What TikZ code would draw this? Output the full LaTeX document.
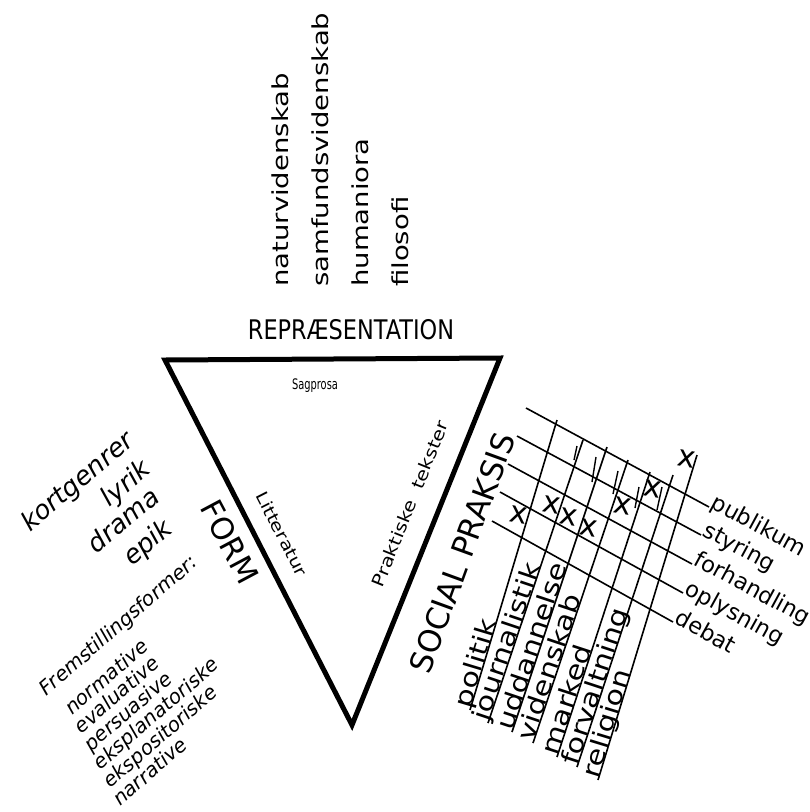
\documentclass[tikz,border=0pt]{standalone}
\usepackage{fontspec}
\setmainfont{DejaVu Sans}
\newfontfamily\tallfont[FakeStretch=1.25]{DejaVu Sans}
\newfontfamily\slimfont[FakeStretch=0.83]{DejaVu Sans}
\newfontfamily\thinfont[FakeStretch=0.68]{DejaVu Sans}
\newfontfamily\wideflat[FakeStretch=1.2]{DejaVu Sans}
\def\tsize#1{\fontsize{#1}{#1}\selectfont}

\begin{document}
\begin{tikzpicture}[x=1pt, y=-1pt,
    every node/.style={inner sep=0pt},
    field/.style={font=\tallfont\tsize{22}, rotate=90, anchor=base west},
    genre/.style={font=\itshape\tsize{26}, rotate=40, anchor=base},
    frem/.style={font=\itshape\tsize{20}, rotate=41, anchor=base west},
    grid/.style={line width=1.6pt},
    tick/.style={line width=1.4pt},
    rowlab/.style={pos=1, sloped, anchor=base west, font=\tsize{22.5}},
    collab/.style={pos=0, sloped, anchor=base west, font=\wideflat\tsize{25}},
    xmark/.style={font=\tsize{30}, rotate=-10}]
  \useasboundingbox (0,0) rectangle (810,812);

  % fagomraader
  \node[field] (natur) at (288,287) {naturvidenskab};
  \node[field] (samfund) at (328,287) {samfundsvidenskab};
  \node[field] (human) at (368,287) {humaniora};
  \node[field] (filo) at (408,287) {filosofi};
  \node[font=\slimfont\tsize{27}, anchor=base] (repr) at (351,339) {REPRÆSENTATION};

  % trekanten
  \coordinate (tl) at (165,360);
  \coordinate (tr) at (500,358);
  \coordinate (bt) at (352,725);
  \draw[line width=5pt, line join=miter] (tl) -- (tr) -- (bt) -- cycle;
  \node[font=\thinfont\tsize{14.5}, anchor=base] (sag) at (315,389) {Sagprosa};
  \node[font=\wideflat\tsize{16.5}, rotate=-63] (litt) at (282,534) {Litteratur};
  \node[font=\wideflat\tsize{17}, rotate=68] (prak) at (410,504) {Praktiske\ \ tekster};
  \node[font=\tsize{30.5}, rotate=-62] (form) at (230,542) {FORM};
  \node[font=\tsize{31}, rotate=70] (social) at (462,553) {SOCIAL PRAKSIS};

  % genrer
  \node[genre] (kort) at (83,488) {kortgenrer};
  \node[genre] (lyrik) at (131,490) {lyrik};
  \node[genre] (drama) at (129,527) {drama};
  \node[genre] (epik) at (153,549) {epik};

  % fremstillingsformer
  \node[frem] (fremst) at (46,697) {Fremstillingsformer:};
  \foreach \w [count=\i from 0] in {normative,evaluative,persuasive,eksplanatoriske,ekspositoriske,narrative}
    \node[frem] (frem\i) at ({72+9.6*\i},{716+18.2*\i}) {\w};

  % skema, social praksis
  \coordinate (h1a) at (526,408); \coordinate (h1b) at (709,507);
  \coordinate (h2a) at (517,436); \coordinate (h2b) at (701,535);
  \coordinate (h3a) at (508,464); \coordinate (h3b) at (692,564);
  \coordinate (h4a) at (500,492); \coordinate (h4b) at (683,593);
  \coordinate (h5a) at (492,521); \coordinate (h5b) at (673,622);
  \draw[grid] (h1a) -- node[rowlab] (publikum) {publikum} (h1b);
  \draw[grid] (h2a) -- node[rowlab] (styring) {styring} (h2b);
  \draw[grid] (h3a) -- node[rowlab] (forhandling) {forhandling} (h3b);
  \draw[grid] (h4a) -- node[rowlab] (oplysning) {oplysning} (h4b);
  \draw[grid] (h5a) -- node[rowlab] (debat) {debat} (h5b);

  \coordinate (v1a) at (557,420); \coordinate (v1b) at (470,710);
  \coordinate (v2a) at (583,440); \coordinate (v2b) at (488,723);
  \coordinate (v3a) at (607,447); \coordinate (v3b) at (512,732);
  \coordinate (v4a) at (628,460); \coordinate (v4b) at (533,743);
  \coordinate (v5a) at (650,472); \coordinate (v5b) at (557,757);
  \coordinate (v6a) at (673,475); \coordinate (v6b) at (577,767);
  \coordinate (v7a) at (697,455); \coordinate (v7b) at (598,780);
  \draw[grid] (v1b) -- node[collab] (politik) {politik} (v1a);
  \draw[grid] (v2b) -- node[collab] (journ) {journalistik} (v2a);
  \draw[grid] (v3b) -- node[collab] (udd) {uddannelse} (v3a);
  \draw[grid] (v4b) -- node[collab] (vid) {videnskab} (v4a);
  \draw[grid] (v5b) -- node[collab] (marked) {marked} (v5a);
  \draw[grid] (v6b) -- node[collab] (forv) {forvaltning} (v6a);
  \draw[grid] (v7b) -- node[collab] (relig) {religion} (v7a);

  \draw[tick] (577,446) -- (574,460);
  \draw[tick] (596,457) -- (592,482);
  \draw[tick] (618,471) -- (613,494);
  \draw[tick] (639,487) -- (635,508);
  \draw[tick] (662,487) -- (657,510);

  \node[xmark] (x1) at (519,515) {x};
  \node[xmark] (x2) at (552,505) {x};
  \node[xmark] (x3) at (569,517) {x};
  \node[xmark] (x4) at (589,528) {x};
  \node[xmark] (x5) at (623,506) {x};
  \node[xmark] (x6) at (653,489) {x};
  \node[xmark] (x7) at (687,459) {x};
\end{tikzpicture}
\end{document}
